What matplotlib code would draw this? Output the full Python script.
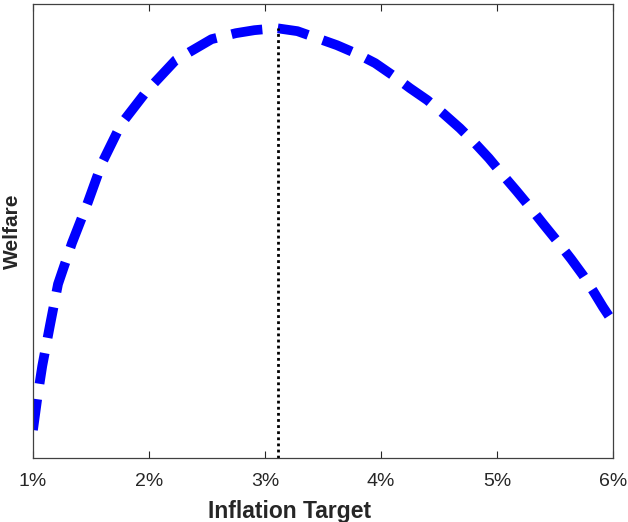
import numpy as np
import matplotlib.pyplot as plt

plt.rcParams['font.family'] = ['Liberation Sans', 'DejaVu Sans']

# inflation target (%) and welfare (arbitrary units, no y scale shown)
target = [1.00, 1.04, 1.08, 1.147, 1.216, 1.336, 1.474, 1.595, 1.76, 1.98,
          2.23, 2.54, 2.75, 2.91, 3.10, 3.28, 3.45, 3.62, 3.80, 3.95, 4.10,
          4.25, 4.40, 4.534, 4.68, 4.81, 4.93, 5.052, 5.17, 5.284, 5.40,
          5.526, 5.64, 5.741, 5.83, 5.914, 6.00]
welfare = [0.28, 0.62, 0.92, 1.33, 1.74, 2.15, 2.56, 2.95, 3.34, 3.67,
           3.98, 4.19, 4.25, 4.28, 4.30, 4.27, 4.20, 4.13, 4.04, 3.95, 3.83,
           3.70, 3.58, 3.45, 3.30, 3.15, 3.00, 2.83, 2.67, 2.51, 2.34,
           2.16, 1.99, 1.83, 1.67, 1.51, 1.36]
opt_target = 3.11
opt_welfare = 4.30
xticks = [1, 2, 3, 4, 5, 6]
xticklabels = ['1%', '2%', '3%', '4%', '5%', '6%']

fig = plt.figure(figsize=(6.28, 5.22), dpi=100)
ax = fig.add_axes([0.0525, 0.1226, 0.9235, 0.8694])

ax.plot(target, welfare, color='#0000ff', linewidth=7, dashes=(3.2, 1.6),
        solid_capstyle='butt', dash_capstyle='butt')
ax.plot([opt_target, opt_target], [0, opt_welfare], color='black',
        linewidth=2, linestyle=(0, (1, 1.2)))

ax.set_xlim(1, 6)
ax.set_ylim(0, 4.54)
ax.set_xticks(xticks)
ax.set_xticklabels(xticklabels)
ax.set_yticks([])
ax.tick_params(axis='x', direction='in', top=True, length=5, width=0.8,
               labelsize=14, colors='#262626', pad=11)
for s in ax.spines.values():
    s.set_color('#404040')
    s.set_linewidth(0.9)

ax.set_xlabel('Inflation Target', fontsize=16.5, fontweight='bold',
              color='#262626')
ax.xaxis.set_label_coords(0.443, -0.092)
ax.set_ylabel('Welfare', fontsize=15, fontweight='bold', color='#262626',
              labelpad=8)

fig.savefig('out.png', dpi=100)
